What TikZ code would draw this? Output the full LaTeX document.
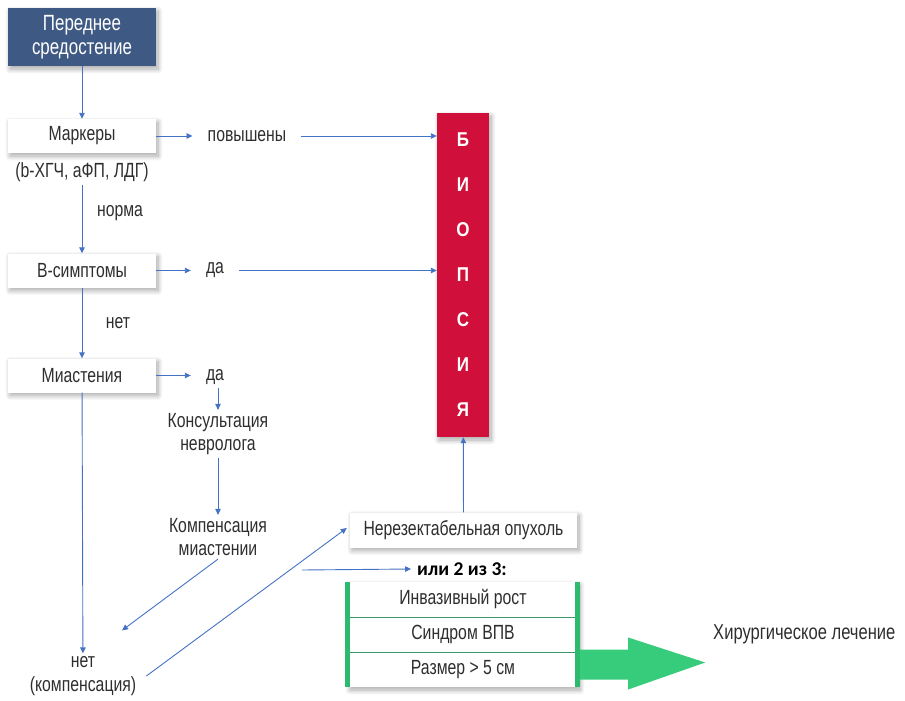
\documentclass[tikz,border=0pt]{standalone}
\usepackage{fontspec}
\setmainfont{Liberation Sans}[FakeStretch=0.77]
\newfontfamily\carlito{Carlito}
\newfontfamily\biofont{Liberation Sans}[FakeStretch=0.85]
\usetikzlibrary{arrows.meta,shadows.blur,calc}
\definecolor{arrblue}{HTML}{4472C4}
\definecolor{darkbox}{HTML}{3E5A84}
\definecolor{biored}{HTML}{D0103A}
\definecolor{gbar}{HTML}{2EBA6E}
\definecolor{garrow}{HTML}{36CC7C}
\definecolor{gline}{HTML}{3A9A66}
\definecolor{txtgray}{HTML}{2E2E2E}
\begin{document}
\begin{tikzpicture}[x=1pt,y=-1pt,
  txt/.style={font=\fontsize{20.5}{23.5}\selectfont, text=txtgray, align=center},
  soft/.style={blur shadow={shadow xshift=2pt, shadow yshift=-3pt, shadow blur radius=5pt, shadow blur steps=10, shadow opacity=35}},
  wbox/.style={txt, fill=white, minimum width=148pt, minimum height=34pt, inner sep=0pt, soft},
  dbox/.style={txt, font=\fontsize{22}{24}\selectfont, text=white, fill=darkbox, minimum width=148pt, minimum height=58pt, inner sep=0pt, soft},
  lbl/.style={txt, inner xsep=15pt, inner ysep=3pt},
  bio/.style={fill=biored, text=white, minimum width=52pt, minimum height=324pt, inner sep=0pt, align=center,
     font=\biofont\bfseries\fontsize{20}{45}\selectfont, soft},
  rowbox/.style={txt, minimum width=230pt, minimum height=35pt, inner sep=0pt},
  conn/.style={draw=arrblue, line width=0.9pt, -{Triangle[width=5.5pt,length=6pt]}},
]
\useasboundingbox (0,0) rectangle (905,701);

% left column
\node[dbox] (pered) at (82,37) {Переднее\\средостение};
\node[wbox] (mark) at (82,136) {Маркеры};
\node[lbl] (markl) at (82,172) {(b-ХГЧ, аФП, ЛДГ)};
\node[lbl] (pov) at (247,136) {повышены};
\node[lbl] (norma) at (120,213) {норма};
\node[wbox] (bsym) at (82,270.5) {В-симптомы};
\node[lbl] (da1) at (215,270.5) {да};
\node[lbl] (net) at (118,323) {нет};
\node[wbox] (miast) at (82,375.5) {Миастения};
\node[lbl] (da2) at (215,377) {да};
\node[lbl] (kons) at (218,434) {Консультация\\невролога};
\node[lbl] (komp) at (218,537) {Компенсация\\миастении};
\node[lbl, inner xsep=10pt] (netk) at (83,676) {нет\\(компенсация)};

% biopsy
\node[bio] (bio) at (463,275) {Б\\И\\О\\П\\С\\И\\Я};

% right lower part
\node[wbox, minimum width=227pt, minimum height=35pt] (nerez) at (463.5,530) {Нерезектабельная опухоль};
\node[font=\carlito\bfseries\fontsize{19.5}{22}\selectfont, text=black, inner xsep=6pt] (ili) at (462,569) {или 2 из 3:};

\fill[white, soft] (348,582) rectangle (578,687);
\node[rowbox] (r1) at (463,599.5) {Инвазивный рост};
\node[rowbox] (r2) at (463,634.5) {Синдром ВПВ};
\node[rowbox] (r3) at (463,669.5) {Размер > 5 см};
\draw[gline, line width=1pt] (r1.south west) -- (r1.south east);
\draw[gline, line width=1pt] (r2.south west) -- (r2.south east);
\fill[gbar] ([xshift=-3pt]r1.north west) rectangle ([xshift=2pt]r3.south west);
\fill[gbar] ([xshift=-3pt]r1.north east) rectangle ([xshift=2pt]r3.south east);

% big green arrow
\fill[garrow] ([xshift=2pt,yshift=-15pt]r2.east) -- ++(48,0) -- ++(0,-12) -- ++(77,25)
   -- ++(-77,27) -- ++(0,-10) -- ++(-48,0) -- cycle;
\node[txt, font=\fontsize{21.5}{24}\selectfont, anchor=west, inner sep=0pt] (hir) at (713,634) {Хирургическое лечение};

% connectors
\draw[conn] (pered) -- (mark);
\draw[conn] (mark.east) -- (pov.west);
\draw[conn] (pov.east) -- (pov.east -| bio.west);
\draw[conn] (markl) -- (bsym);
\draw[conn] (bsym.east) -- (da1.west);
\draw[conn] (da1.east) -- (da1.east -| bio.west);
\draw[conn] (bsym) -- (miast);
\draw[conn] (miast.east) -- (miast.east -| da2.west);
\draw[conn] (kons.north |- da2.south) -- (kons.north);
\draw[conn] (kons) -- (komp);
\draw[conn] (komp.south) -- ([shift={(39,-23)}]netk.north);
\draw[conn] (miast) -- (netk);
\draw[conn] (netk.east) -- ([xshift=-3pt,yshift=2pt]nerez.west);
\coordinate (br) at (302,570);
\draw[conn] (br) -- (ili.west);
\draw[conn] (nerez) -- (bio);
\end{tikzpicture}
\end{document}
